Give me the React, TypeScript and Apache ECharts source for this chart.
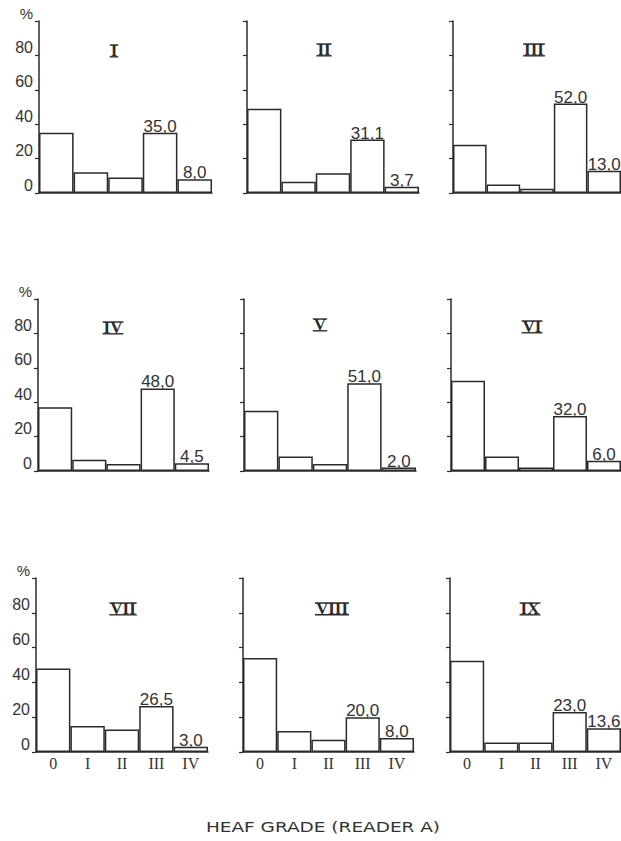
import React, { useEffect, useRef } from 'react';
import * as echarts from 'echarts';

// ---- data ----
const categories = ['0', 'I', 'II', 'III', 'IV'];
const panelNames = ['I', 'II', 'III', 'IV', 'V', 'VI', 'VII', 'VIII', 'IX'];
const yMax = 100;
const yStep = 20;

const panelI = [35, 12, 9, 35.0, 8.0];
const panelII = [49, 6.5, 11.5, 31.1, 3.7];
const panelIII = [28, 5, 2.5, 52.0, 13.0];
const panelIV = [37, 6.5, 4, 48.0, 4.5];
const panelV = [35, 8.5, 4, 51.0, 2.0];
const panelVI = [52.5, 8.5, 2, 32.0, 6.0];
const panelVII = [48, 15, 13, 26.5, 3.0];
const panelVIII = [54, 12, 7, 20.0, 8.0];
const panelIX = [52.5, 5.5, 5.5, 23.0, 13.6];
const panelValues = [panelI, panelII, panelIII, panelIV, panelV, panelVI, panelVII, panelVIII, panelIX];
const labelledIndices = [3, 4];
const xAxisTitle = 'HEAF GRADE (READER A)';

// ---- layout ----
const rowTops = [21, 299, 578];
const rowHeights = [172, 172, 174];
const panelLefts = [39, 247, 453, 38, 244, 451, 36, 243, 450];
const panelWidths = [173, 172, 175, 171, 172, 175, 172, 171, 172];
const titlePos = [
  [114, 51], [324, 50], [534, 50],
  [113, 328], [320, 325], [532, 327],
  [123, 609], [332, 609], [530, 609],
];
const INK = '#2b2b2b';

export default function App() {
  const ref = useRef<HTMLDivElement>(null);

  useEffect(() => {
    if (!ref.current) return;
    const chart = echarts.init(ref.current, null, { renderer: 'svg' });

    const canvas = document.createElement('canvas');
    const ctx = canvas.getContext('2d')!;
    ctx.font = 'bold 17px "Liberation Serif"';

    const grids: any[] = [];
    const xAxes: any[] = [];
    const yAxes: any[] = [];
    const series: any[] = [];
    const graphics: any[] = [];

    panelValues.forEach((vals, i) => {
      const row = Math.floor(i / 3);
      const col = i % 3;
      grids.push({
        left: panelLefts[i],
        top: rowTops[row],
        width: panelWidths[i],
        height: rowHeights[row],
      });
      xAxes.push({
        type: 'category',
        gridIndex: i,
        data: categories,
        axisLine: { show: true, lineStyle: { color: INK, width: 1.5 } },
        axisTick: { show: false },
        axisLabel: {
          show: row === 2,
          color: '#333',
          fontFamily: 'Liberation Serif',
          fontSize: 16,
          margin: 3,
        },
      });
      yAxes.push({
        type: 'value',
        gridIndex: i,
        min: 0,
        max: yMax,
        interval: yStep,
        splitLine: { show: false },
        axisLine: { show: true, lineStyle: { color: INK, width: 1.5 } },
        axisTick: { show: true, length: 4, lineStyle: { color: INK, width: 1.2 } },
        axisLabel: {
          show: col === 0,
          color: '#333',
          fontFamily: 'Liberation Sans',
          fontSize: 16,
          margin: 6,
          verticalAlign: 'bottom',
          formatter: (v: number) => (v === yMax ? '{p|%}' : String(v)),
          rich: { p: { fontSize: 15, fontFamily: 'Liberation Sans', color: '#333' } },
        },
      });
      series.push({
        type: 'bar',
        xAxisIndex: i,
        yAxisIndex: i,
        barCategoryGap: '0%',
        itemStyle: { color: '#fff', borderColor: INK, borderWidth: 1.5 },
        label: {
          show: false,
          position: 'top',
          distance: -2,
          color: '#333',
          fontFamily: 'Liberation Sans',
          fontSize: 17,
          formatter: (p: any) => Number(p.value).toFixed(1).replace('.', ','),
        },
        data: vals.map((v, j) => ({ value: v, label: { show: labelledIndices.includes(j) } })),
      });

      const [cx, cy] = titlePos[i];
      const name = panelNames[i];
      const w = ctx.measureText(name).width;
      graphics.push({
        type: 'text',
        x: cx,
        y: cy - 0.5,
        style: {
          text: name,
          fill: INK,
          fontFamily: 'Liberation Serif',
          fontWeight: 'bold',
          fontSize: 17,
          align: 'center',
          verticalAlign: 'middle',
          textAlign: 'center',
          textVerticalAlign: 'middle',
        },
      });
      graphics.push({
        type: 'line',
        shape: { x1: cx - w / 2 - 1, y1: cy - 6, x2: cx + w / 2 + 1, y2: cy - 6 },
        style: { stroke: INK, lineWidth: 1.4 },
      });
      graphics.push({
        type: 'line',
        shape: { x1: cx - w / 2 - 1, y1: cy + 5.8, x2: cx + w / 2 + 1, y2: cy + 5.8 },
        style: { stroke: INK, lineWidth: 1.4 },
      });
    });

    graphics.push({
      type: 'text',
      x: 323,
      y: 827,
      scaleX: 1.32,
      style: {
        text: xAxisTitle,
        fill: '#333',
        fontFamily: 'DejaVu Sans',
        fontSize: 14,
        align: 'center',
        verticalAlign: 'middle',
        textAlign: 'center',
        textVerticalAlign: 'middle',
      },
    });

    chart.setOption({
      animation: false,
      backgroundColor: '#fff',
      grid: grids,
      xAxis: xAxes,
      yAxis: yAxes,
      series,
      graphic: graphics,
    });

    return () => chart.dispose();
  }, []);

  return (
    <div
      ref={ref}
      style={{ position: 'absolute', left: 0, top: 0, width: 621, height: 841 }}
    />
  );
}
